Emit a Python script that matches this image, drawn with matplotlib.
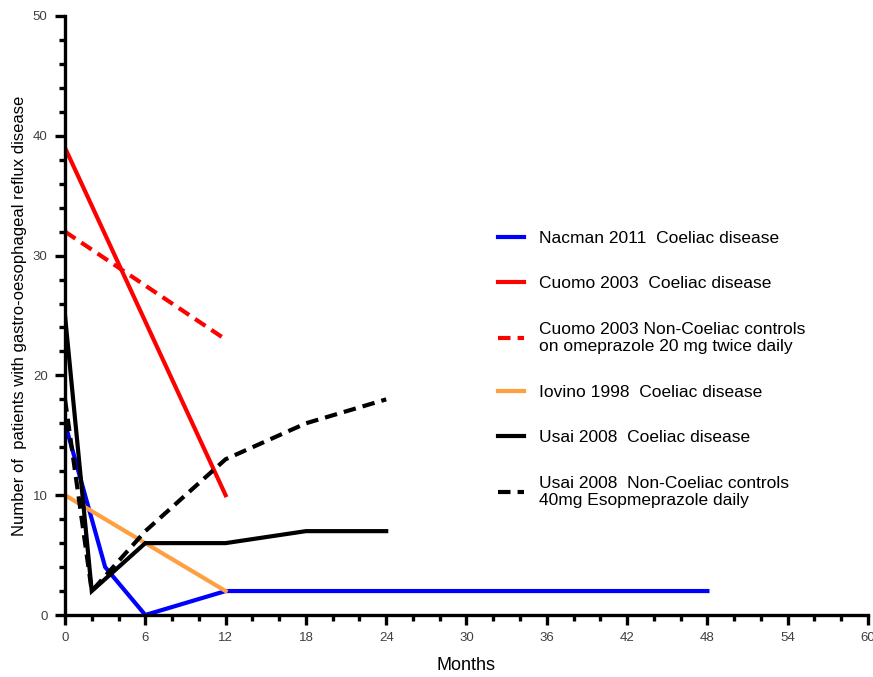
import matplotlib
matplotlib.use("Agg")
import matplotlib.pyplot as plt
from matplotlib.ticker import MultipleLocator

plt.rcParams['font.family'] = ['Liberation Sans', 'DejaVu Sans']

# data (months, number of patients)
nacman_x = [0, 3, 6, 12, 48]
nacman_y = [16, 4, 0, 2, 2]
cuomo_x = [0, 12]
cuomo_y = [39, 10]
cuomo_ctrl_x = [0, 12]
cuomo_ctrl_y = [32, 23]
iovino_x = [0, 12]
iovino_y = [10, 2]
usai_x = [0, 2, 6, 12, 18, 24]
usai_y = [25, 2, 6, 6, 7, 7]
usai_ctrl_x = [0, 2, 6, 12, 18, 24]
usai_ctrl_y = [18, 2, 7, 13, 16, 18]

labels = ["Nacman 2011  Coeliac disease",
          "Cuomo 2003  Coeliac disease",
          "Cuomo 2003 Non-Coeliac controls\non omeprazole 20 mg twice daily",
          "Iovino 1998  Coeliac disease",
          "Usai 2008  Coeliac disease",
          "Usai 2008  Non-Coeliac controls\n40mg Esopmeprazole daily"]

fig = plt.figure(figsize=(8.73, 6.77), dpi=100)
ax = fig.add_axes([65 / 873, 1 - 615 / 677, (868 - 65) / 873, (615 - 16) / 677])

lw = 3.0
dash = (0, (3, 1.7))
h1, = ax.plot(nacman_x, nacman_y, color='#0000ff', lw=lw, solid_joinstyle='miter')
h2, = ax.plot(cuomo_x, cuomo_y, color='#ff0000', lw=lw)
h3, = ax.plot(cuomo_ctrl_x, cuomo_ctrl_y, color='#ff0000', lw=lw, linestyle=dash)
h4, = ax.plot(iovino_x, iovino_y, color='#ffa040', lw=lw)
h5, = ax.plot(usai_x, usai_y, color='black', lw=lw, solid_joinstyle='miter')
h6, = ax.plot(usai_ctrl_x, usai_ctrl_y, color='black', lw=lw, linestyle=dash)

ax.set_xlim(0, 60)
ax.set_ylim(0, 50)
ax.xaxis.set_major_locator(MultipleLocator(6))
ax.xaxis.set_minor_locator(MultipleLocator(2))
ax.yaxis.set_major_locator(MultipleLocator(10))
ax.yaxis.set_minor_locator(MultipleLocator(2))

for side in ['top', 'right']:
    ax.spines[side].set_visible(False)
for side in ['left', 'bottom']:
    ax.spines[side].set_linewidth(2.4)
ax.tick_params(which='major', length=7.5, width=2.4, labelsize=9.5, labelcolor='#404040', pad=5)
ax.tick_params(which='minor', length=4.5, width=2.4)

ax.set_xlabel("Months", fontsize=13, labelpad=9)
ax.set_ylabel("Number of  patients with gastro-oesophageal reflux disease", fontsize=12, labelpad=4)

leg = fig.legend([h1, h2, h3, h4, h5, h6], labels,
                 loc='upper left', bbox_to_anchor=(482 / 873, 1 - 215 / 677),
                 frameon=False, fontsize=12.5, handlelength=1.5, handletextpad=0.9,
                 labelspacing=1.75)

fig.savefig("out.png", dpi=100)
